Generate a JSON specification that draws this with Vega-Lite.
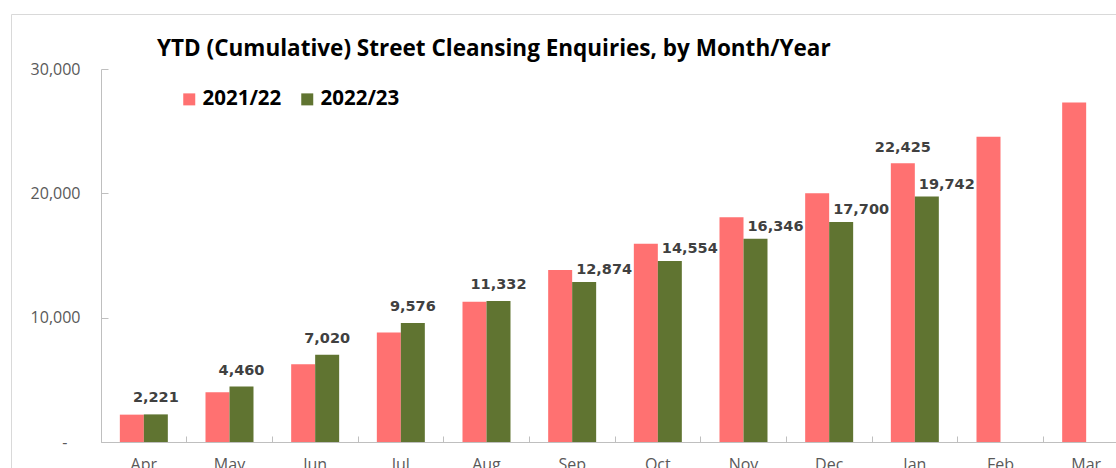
{
  "$schema": "https://vega.github.io/schema/vega-lite/v6.json",
  "width": 1200,
  "height": 460,
  "autosize": {"type": "none"},
  "padding": {"left": 11, "top": 14, "right": 0, "bottom": 0},
  "background": "white",
  "config": {"view": {"stroke": "#d9d9d9", "strokeWidth": 1}, "font": "Open Sans"},
  "title": {
    "text": "YTD (Cumulative) Street Cleansing Enquiries, by Month/Year",
    "anchor": "start",
    "frame": "group",
    "dx": 146,
    "offset": -64,
    "baseline": "alphabetic",
    "fontSize": 22.5,
    "fontWeight": "bold",
    "font": "Open Sans",
    "color": "#000000"
  },
  "data": {
    "values": [
      {"month": "Apr", "series": "2021/22", "value": 2200},
      {"month": "May", "series": "2021/22", "value": 4000},
      {"month": "Jun", "series": "2021/22", "value": 6250},
      {"month": "Jul", "series": "2021/22", "value": 8800},
      {"month": "Aug", "series": "2021/22", "value": 11290},
      {"month": "Sep", "series": "2021/22", "value": 13840},
      {"month": "Oct", "series": "2021/22", "value": 15950},
      {"month": "Nov", "series": "2021/22", "value": 18070},
      {"month": "Dec", "series": "2021/22", "value": 20010},
      {"month": "Jan", "series": "2021/22", "value": 22425},
      {"month": "Feb", "series": "2021/22", "value": 24560},
      {"month": "Mar", "series": "2021/22", "value": 27300},
      {"month": "Apr", "series": "2022/23", "value": 2221},
      {"month": "May", "series": "2022/23", "value": 4460},
      {"month": "Jun", "series": "2022/23", "value": 7020},
      {"month": "Jul", "series": "2022/23", "value": 9576},
      {"month": "Aug", "series": "2022/23", "value": 11332},
      {"month": "Sep", "series": "2022/23", "value": 12874},
      {"month": "Oct", "series": "2022/23", "value": 14554},
      {"month": "Nov", "series": "2022/23", "value": 16346},
      {"month": "Dec", "series": "2022/23", "value": 17700},
      {"month": "Jan", "series": "2022/23", "value": 19742}
    ]
  },
  "encoding": {
    "x": {
      "field": "month",
      "type": "nominal",
      "sort": ["Apr", "May", "Jun", "Jul", "Aug", "Sep", "Oct", "Nov", "Dec", "Jan", "Feb", "Mar"],
      "scale": {"range": [90, 1118], "paddingInner": 0, "paddingOuter": 0},
      "axis": {
        "title": null,
        "offset": -32,
        "bandPosition": 0,
        "labelAngle": 0,
        "tickSize": -6,
        "tickColor": "#bfbfbf",
        "domainColor": "#bfbfbf",
        "labelFont": "Open Sans",
        "labelFontSize": 16,
        "labelColor": "#595959",
        "labelPadding": 20
      }
    },
    "xOffset": {
      "field": "series",
      "type": "nominal",
      "sort": ["2021/22", "2022/23"],
      "scale": {"paddingOuter": 0.785, "paddingInner": 0}
    },
    "y": {
      "field": "value",
      "type": "quantitative",
      "scale": {"domain": [0, 30000], "range": [428, 55], "nice": false},
      "axis": {
        "title": null,
        "offset": -90,
        "values": [0, 10000, 20000, 30000],
        "labelExpr": "datum.value === 0 ? '-' : format(datum.value, ',')",
        "grid": false,
        "tickSize": -7,
        "tickColor": "#bfbfbf",
        "domainColor": "#bfbfbf",
        "labelFont": "Open Sans",
        "labelFontSize": 16,
        "labelColor": "#595959",
        "labelPadding": {"condition": {"test": "datum.value === 0", "value": 41}, "value": 28}
      }
    }
  },
  "layer": [
    {
      "mark": {"type": "bar"},
      "encoding": {
        "color": {
          "field": "series",
          "type": "nominal",
          "scale": {"domain": ["2021/22", "2022/23"], "range": ["#FF7171", "#607431"]},
          "legend": {
            "orient": "none",
            "legendX": 168,
            "legendY": 75,
            "direction": "horizontal",
            "title": null,
            "symbolType": "square",
            "symbolSize": 144,
            "symbolStrokeWidth": 0,
            "labelFont": "Open Sans",
            "labelFontSize": 20.5,
            "labelFontWeight": "bold",
            "labelColor": "#000000",
            "columnPadding": 15,
            "labelOffset": 3,
            "padding": 0
          }
        }
      }
    },
    {
      "transform": [{"filter": "datum.series === '2022/23' && indexof(['Apr','May','Jun','Jul','Aug'], datum.month) >= 0"}],
      "mark": {"type": "text", "baseline": "alphabetic", "dy": -12, "font": "DejaVu Sans", "fontSize": 14.5, "fontWeight": "bold", "color": "#404040"},
      "encoding": {"text": {"field": "value", "type": "quantitative", "format": ","}}
    },
    {
      "transform": [{"filter": "datum.series === '2022/23' && indexof(['Sep','Oct','Nov','Dec','Jan'], datum.month) >= 0"}],
      "mark": {"type": "text", "baseline": "alphabetic", "dy": -8, "dx": 20, "font": "DejaVu Sans", "fontSize": 14.5, "fontWeight": "bold", "color": "#404040"},
      "encoding": {"text": {"field": "value", "type": "quantitative", "format": ","}}
    },
    {
      "transform": [{"filter": "datum.series === '2021/22' && datum.month === 'Jan'"}],
      "mark": {"type": "text", "baseline": "alphabetic", "dy": -11, "font": "DejaVu Sans", "fontSize": 14.5, "fontWeight": "bold", "color": "#404040"},
      "encoding": {"text": {"field": "value", "type": "quantitative", "format": ","}}
    }
  ]
}
